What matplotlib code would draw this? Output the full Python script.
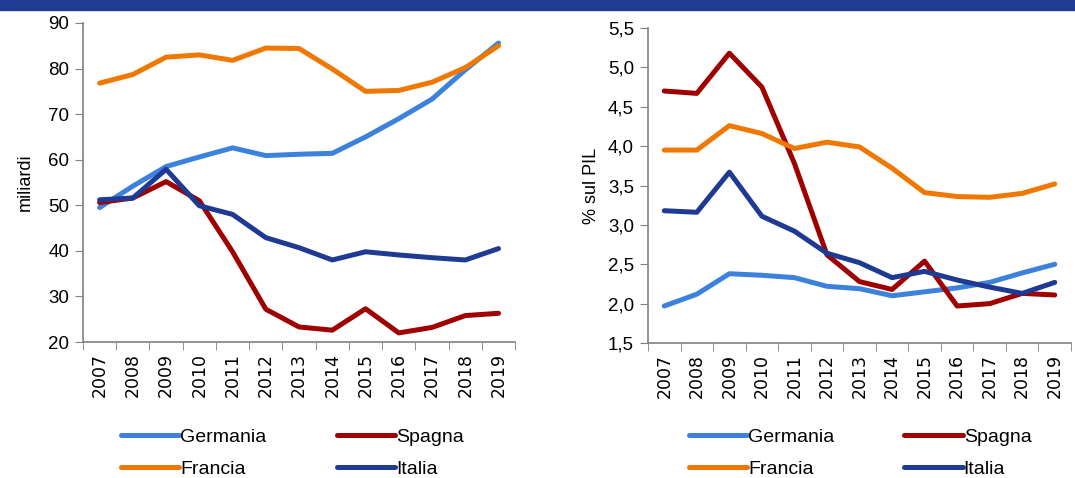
import matplotlib
matplotlib.use('Agg')
import matplotlib.pyplot as plt
from matplotlib.patches import Rectangle
from matplotlib.ticker import FuncFormatter, FixedLocator

years = [str(y) for y in range(2007, 2020)]

# miliardi
ger_bn = [49.5, 54.2, 58.5, 60.6, 62.6, 60.9, 61.2, 61.4, 65.0, 69.0, 73.3, 79.7, 85.6]
fra_bn = [76.8, 78.7, 82.5, 83.0, 81.8, 84.5, 84.4, 79.9, 75.0, 75.2, 77.0, 80.2, 85.0]
spa_bn = [50.6, 51.6, 55.2, 51.0, 39.8, 27.2, 23.3, 22.6, 27.3, 22.0, 23.2, 25.8, 26.3]
ita_bn = [51.2, 51.6, 57.9, 49.9, 48.0, 42.9, 40.7, 38.0, 39.8, 39.1, 38.5, 38.0, 40.5]

# % sul PIL
ger_pil = [1.97, 2.12, 2.38, 2.36, 2.33, 2.22, 2.19, 2.10, 2.15, 2.20, 2.27, 2.39, 2.50]
fra_pil = [3.95, 3.95, 4.26, 4.16, 3.97, 4.05, 3.99, 3.72, 3.41, 3.36, 3.35, 3.40, 3.52]
spa_pil = [4.70, 4.67, 5.18, 4.75, 3.78, 2.62, 2.28, 2.18, 2.54, 1.97, 2.00, 2.13, 2.11]
ita_pil = [3.18, 3.16, 3.67, 3.11, 2.92, 2.64, 2.52, 2.33, 2.41, 2.30, 2.21, 2.13, 2.27]

colors = {'Germania': '#3c82dc', 'Spagna': '#a00000',
          'Francia': '#f07800', 'Italia': '#1f3a93'}

plt.rcParams['font.family'] = ['Liberation Sans', 'DejaVu Sans']

fig = plt.figure(figsize=(10.75, 4.78), dpi=100)

# blue header band (title text cut off in the source)
fig.patches.append(Rectangle((0, 0.979), 1, 0.021, transform=fig.transFigure,
                             color='#213a93', zorder=0))

ax1 = fig.add_axes([0.0772, 0.2845, 0.402, 0.6674])
ax2 = fig.add_axes([0.6028, 0.2824, 0.3935, 0.659])


def style(ax, series, ylim, yticks, fmt, ylabel, leg_x, labelpad):
    x = range(len(years))
    for name, vals in series:
        ax.plot(x, vals, color=colors[name], linewidth=3.6,
                solid_capstyle='round', solid_joinstyle='round', label=name)
    ax.set_xlim(-0.5, len(years) - 0.5)
    ax.set_ylim(*ylim)
    ax.set_yticks(yticks)
    ax.yaxis.set_major_formatter(FuncFormatter(fmt))
    ax.set_xticks(list(x))
    ax.set_xticklabels(years, rotation=90, fontsize=12.5,
                       family=['DejaVu Sans'])
    ax.xaxis.set_minor_locator(FixedLocator([i - 0.5 for i in range(len(years) + 1)]))
    ax.tick_params(axis='x', which='major', length=0, pad=8)
    ax.tick_params(axis='x', which='minor', length=6, color='#808080', direction='out')
    ax.tick_params(axis='y', length=6, color='#808080', labelsize=13.5, pad=4)
    for s in ['top', 'right']:
        ax.spines[s].set_visible(False)
    for s in ['left', 'bottom']:
        ax.spines[s].set_color('#808080')
        ax.spines[s].set_linewidth(1.2)
    ax.set_ylabel(ylabel, fontsize=13, labelpad=labelpad)
    handles, labels = ax.get_legend_handles_labels()
    order = [0, 2, 1, 3]
    ax.legend([handles[i] for i in order], [labels[i] for i in order],
              ncol=2, loc='upper left', bbox_to_anchor=(leg_x, -0.246),
              frameon=False, handlelength=3.0, handletextpad=0.05,
              columnspacing=3.6, labelspacing=0.75, borderaxespad=0,
              prop={'size': 14})


style(ax1, [('Germania', ger_bn), ('Spagna', spa_bn), ('Francia', fra_bn), ('Italia', ita_bn)],
      (20, 90), range(20, 91, 10), lambda v, p: f'{v:.0f}', 'miliardi', 0.07, 10)
style(ax2, [('Germania', ger_pil), ('Spagna', spa_pil), ('Francia', fra_pil), ('Italia', ita_pil)],
      (1.5, 5.5), [1.5 + 0.5 * i for i in range(9)],
      lambda v, p: f'{v:.1f}'.replace('.', ','), '% sul PIL', 0.078, 6)

fig.savefig('out.png', dpi=100)
